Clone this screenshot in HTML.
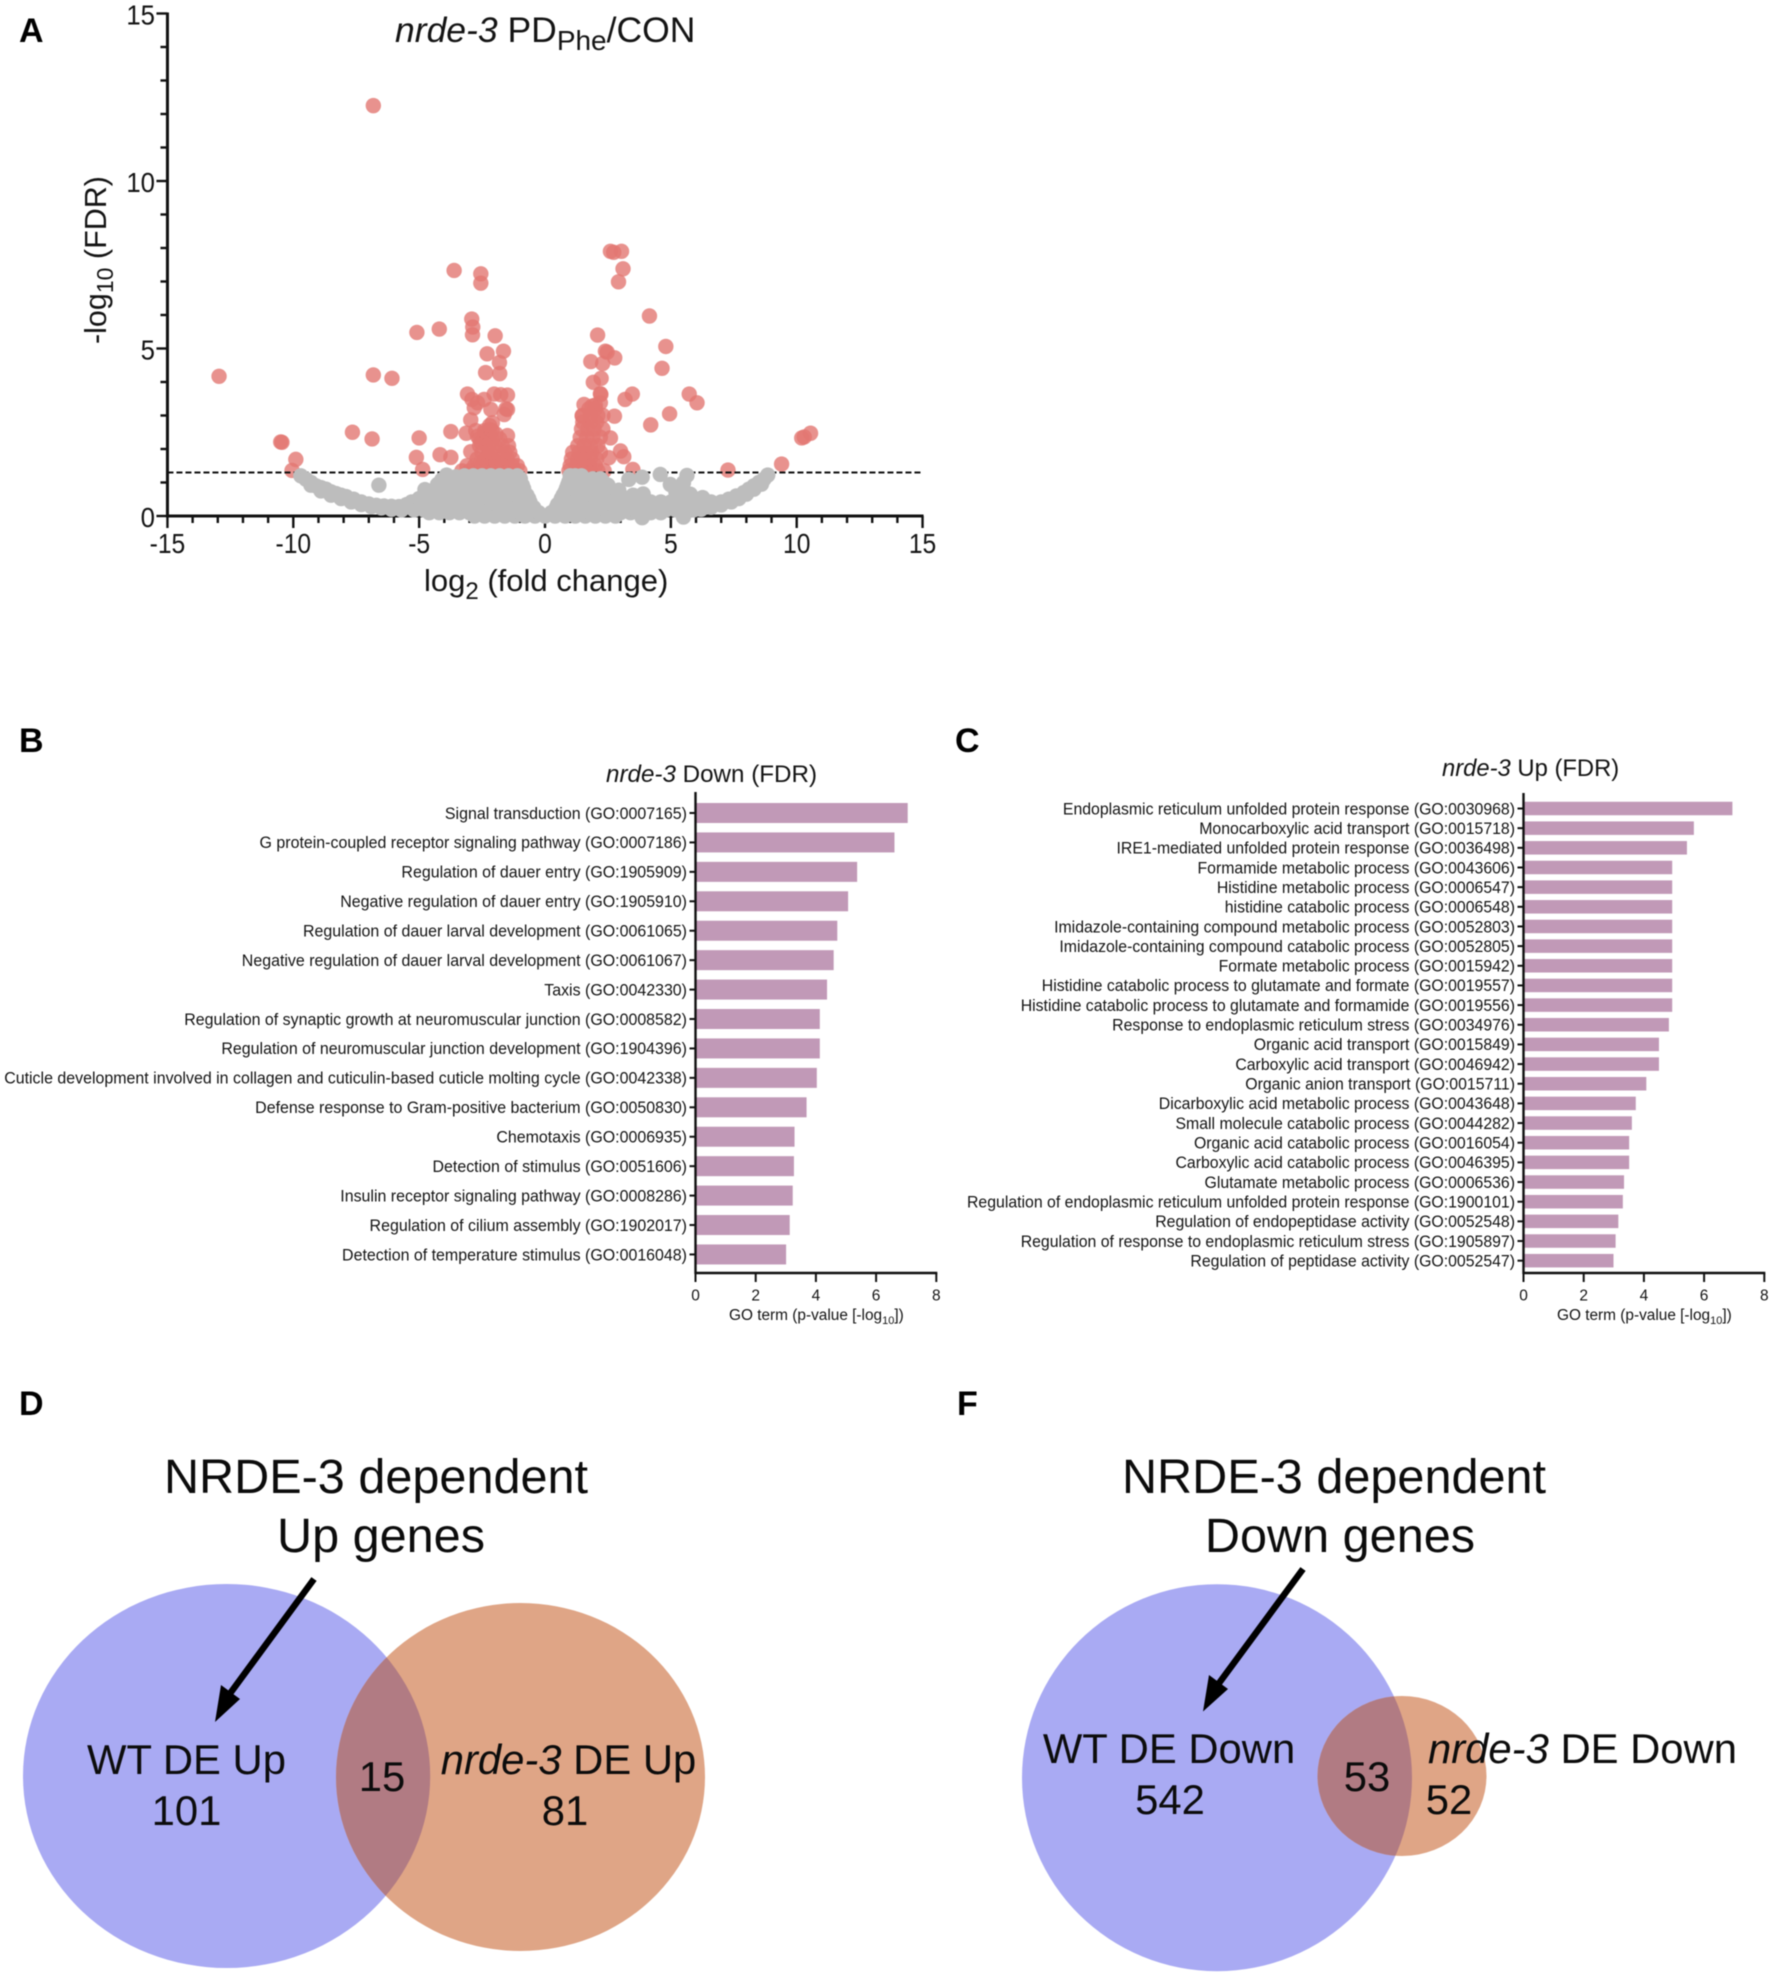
<!DOCTYPE html>
<html lang="en">
<head>
<meta charset="utf-8">
<title>nrde-3 figure</title>
<style>
html,body{margin:0;padding:0;background:#fff;}
svg{display:block;filter:blur(0.5px);}
text{font-family:"Liberation Sans",Arial,sans-serif;fill:#141414;}
.panel{font-weight:bold;font-size:34px;fill:#000;}
.venn{font-size:48.6px;fill:#0c0c0c;}
.venn2{font-size:41.8px;fill:#0c0c0c;}
</style>
</head>
<body>
<svg id="fig" xmlns="http://www.w3.org/2000/svg" width="1772" height="1976" viewBox="0 0 1772 1976">
  <rect x="0" y="0" width="1772" height="1976" fill="#fff"/>
  <text class="panel" x="19" y="42">A</text>
  <text class="panel" x="19" y="752">B</text>
  <text class="panel" x="955" y="752">C</text>
  <text class="panel" x="19" y="1415">D</text>
  <text class="panel" x="957" y="1415">F</text>

  <g id="volcano"></g>
  <text x="395" y="42" font-size="35.5"><tspan font-style="italic">nrde-3</tspan> PD<tspan font-size="28" dy="8">Phe</tspan><tspan dy="-8">/CON</tspan></text>
  <text transform="translate(106,344) rotate(-90)" font-size="30.5">-log<tspan font-size="23" dy="7">10</tspan><tspan dy="-7"> (FDR)</tspan></text>
  <text x="424" y="591" font-size="31">log<tspan font-size="24" dy="8">2</tspan><tspan dy="-8"> (fold change)</tspan></text>

  <g id="barsDown"></g>
  <text x="606" y="782" font-size="24.2"><tspan font-style="italic">nrde-3</tspan> Down (FDR)</text>
  <text x="729" y="1320" font-size="15.4">GO term (p-value [-log<tspan font-size="11" dy="4">10</tspan><tspan dy="-4">])</tspan></text>

  <g id="barsUp"></g>
  <text x="1442" y="776" font-size="23.8"><tspan font-style="italic">nrde-3</tspan> Up (FDR)</text>
  <text x="1557" y="1320" font-size="15.4">GO term (p-value [-log<tspan font-size="11" dy="4">10</tspan><tspan dy="-4">])</tspan></text>

  <defs>
    <clipPath id="clipD"><ellipse cx="226.6" cy="1776" rx="203.6" ry="192"/></clipPath>
    <clipPath id="clipF"><ellipse cx="1217" cy="1777.7" rx="195" ry="193.5"/></clipPath>
  </defs>

  <g>
    <ellipse cx="226.6" cy="1776" rx="203.6" ry="192" fill="#a9aaf3"/>
    <ellipse cx="520.5" cy="1777" rx="184.5" ry="174" fill="#dfa586"/>
    <ellipse cx="520.5" cy="1777" rx="184.5" ry="174" fill="#b17b83" clip-path="url(#clipD)"/>
    <text class="venn" x="376" y="1493" text-anchor="middle">NRDE-3 dependent</text>
    <text class="venn" x="381" y="1552" text-anchor="middle">Up genes</text>
    <line x1="314" y1="1579" x2="226" y2="1699" stroke="#000" stroke-width="6.5"/>
    <polygon points="215,1722 221,1685 240,1699" fill="#000"/>
    <text class="venn2" x="186.5" y="1774" text-anchor="middle">WT DE Up</text>
    <text class="venn2" x="186.5" y="1825" text-anchor="middle">101</text>
    <text class="venn2" x="382" y="1791" text-anchor="middle">15</text>
    <text class="venn2" x="568.5" y="1774" text-anchor="middle"><tspan font-style="italic">nrde-3</tspan> DE Up</text>
    <text class="venn2" x="565" y="1825" text-anchor="middle">81</text>
  </g>

  <g>
    <ellipse cx="1217" cy="1777.7" rx="195" ry="193.5" fill="#a9aaf3"/>
    <ellipse cx="1402" cy="1776" rx="84.5" ry="80" fill="#dfa586"/>
    <ellipse cx="1402" cy="1776" rx="84.5" ry="80" fill="#b17b83" clip-path="url(#clipF)"/>
    <text class="venn" x="1334" y="1493" text-anchor="middle">NRDE-3 dependent</text>
    <text class="venn" x="1340" y="1552" text-anchor="middle">Down genes</text>
    <line x1="1303" y1="1569" x2="1214" y2="1690" stroke="#000" stroke-width="6.5"/>
    <polygon points="1203,1711.5 1209,1675 1228,1689" fill="#000"/>
    <text class="venn2" x="1169" y="1763" text-anchor="middle">WT DE Down</text>
    <text class="venn2" x="1170" y="1814" text-anchor="middle">542</text>
    <text class="venn2" x="1367" y="1791" text-anchor="middle">53</text>
    <text class="venn2" x="1428" y="1763"><tspan font-style="italic">nrde-3</tspan> DE Down</text>
    <text class="venn2" x="1449" y="1814" text-anchor="middle">52</text>
  </g>
</svg>
<script>
/* ===== Volcano data (log2FC, -log10 FDR) ===== */
const volcanoXTicks = [-15,-10,-5,0,5,10,15];
const volcanoYTicks = [0,5,10,15];
const fdrThreshold = 1.3;
const sigOutliers = [[-6.82,12.25],[-12.95,4.17],[-10.5,2.21],[-10.45,2.2],[-10.05,1.36],[-9.9,1.69],[7.27,1.37],[9.4,1.55],[10.2,2.33],[10.3,2.36],[10.55,2.47]];
const sigLeft = [[-3.61,7.33],[-2.55,7.23],[-2.55,6.95],[-2.91,5.88],[-2.87,5.64],[-2.88,5.41],[-5.09,5.48],[-4.2,5.58],[-1.98,5.38],[-2.3,4.84],[-1.65,4.92],[-1.81,4.58],[-2.36,4.28],[-1.8,4.25],[-6.82,4.21],[-6.08,4.11],[-3.08,3.64],[-2.9,3.48],[-2.42,3.48],[-2.02,3.64],[-1.76,3.62],[-1.49,3.61],[-2.68,3.38],[-2.81,3.23],[-2.15,3.18],[-1.49,3.18],[-1.62,3.03],[-1.55,3.2],[-2.95,2.87],[-2.09,2.78],[-3.74,2.52],[-3.13,2.47],[-1.49,2.4],[-7.65,2.5],[-6.87,2.3],[-5.0,2.33],[-2.68,2.38],[-2.4,2.48],[-2.2,2.58],[-2.55,2.2],[-2.95,1.92],[-4.17,1.83],[-3.74,1.75],[-5.11,1.75],[-4.86,1.39]];
const sigLeftDense = [[-3.3,1.35],[-3.0,1.35],[-2.7,1.35],[-2.4,1.35],[-2.1,1.35],[-1.8,1.35],[-1.5,1.35],[-1.2,1.35],[-1.0,1.35],[-3.1,1.5],[-2.8,1.5],[-2.5,1.5],[-2.2,1.5],[-1.9,1.5],[-1.6,1.5],[-1.3,1.5],[-1.1,1.5],[-2.7,1.7],[-2.4,1.7],[-2.1,1.7],[-1.8,1.7],[-1.5,1.7],[-1.3,1.7],[-2.5,1.9],[-2.2,1.9],[-1.9,1.9],[-1.6,1.9],[-1.4,1.9],[-2.6,2.1],[-2.3,2.1],[-2.0,2.1],[-1.7,2.1],[-1.45,2.1],[-2.6,2.3],[-2.3,2.3],[-2.1,2.3],[-1.8,2.3],[-2.4,2.55],[-2.1,2.55],[-2.2,2.7],[-1.95,2.45],[-2.75,2.55],[-2.25,1.8],[-1.95,1.6],[-2.55,1.6]];
const sigRight = [[2.6,7.9],[2.73,7.87],[3.04,7.9],[3.1,7.38],[2.92,6.99],[4.15,5.97],[4.8,5.06],[4.65,4.41],[2.09,5.4],[2.4,4.92],[2.47,4.89],[2.77,4.72],[1.82,4.61],[2.29,4.55],[2.23,4.11],[1.92,3.99],[2.2,3.65],[2.22,3.63],[2.2,3.38],[2.0,3.31],[1.87,3.28],[3.47,3.64],[3.18,3.48],[1.55,3.33],[1.48,2.98],[2.76,2.98],[5.73,3.64],[6.04,3.38],[4.95,3.05],[4.2,2.72],[2.6,2.33],[3.0,1.94],[3.13,1.77],[2.54,1.74],[3.49,1.39]];
const sigRightDense = [[0.95,1.35],[1.2,1.35],[1.5,1.35],[1.8,1.35],[2.1,1.35],[2.35,1.35],[1.0,1.5],[1.25,1.5],[1.5,1.5],[1.75,1.5],[2.0,1.5],[1.05,1.7],[1.3,1.7],[1.55,1.7],[1.8,1.7],[2.05,1.7],[1.1,1.9],[1.35,1.9],[1.6,1.9],[1.85,1.9],[2.2,1.9],[1.3,2.1],[1.55,2.1],[1.8,2.1],[2.1,2.1],[1.4,2.35],[1.65,2.35],[1.9,2.35],[2.2,2.35],[1.45,2.6],[1.7,2.6],[1.95,2.6],[2.3,2.6],[1.5,2.8],[1.8,2.8],[2.05,2.8],[1.48,3.0],[1.8,3.0],[2.1,3.0],[2.3,3.0],[1.75,3.2],[2.0,3.2]];
const nsLeftArm = [[-9.7,1.2],[-9.5,1.1],[-9.3,1.0],[-9.1,0.9],[-8.9,0.85],[-8.7,0.8],[-8.5,0.72],[-8.3,0.67],[-8.1,0.62],[-7.9,0.58],[-7.6,0.5],[-7.3,0.42],[-7.0,0.36],[-6.7,0.32],[-6.4,0.3],[-6.1,0.29],[-5.8,0.28],[-9.3,0.92],[-8.9,0.75],[-8.5,0.62],[-8.1,0.52],[-7.7,0.42],[-7.3,0.34],[-6.9,0.28],[-6.5,0.24],[-6.1,0.2],[-5.7,0.18]];
const nsRightArm = [[8.85,1.22],[8.7,1.1],[8.5,1.0],[8.3,0.9],[8.1,0.8],[7.9,0.7],[7.6,0.6],[7.3,0.5],[7.0,0.42],[6.7,0.35],[6.4,0.3],[6.1,0.28],[5.8,0.28],[8.6,0.95],[8.3,0.8],[8.0,0.65],[7.7,0.52],[7.4,0.42],[7.0,0.33],[6.6,0.26],[6.2,0.2],[5.9,0.18]];
const nsOutliers = [[-6.6,0.92],[3.33,1.09],[3.86,1.16],[4.58,1.24],[5.64,1.21],[5.5,0.99],[4.98,0.94],[3.5,0.62],[3.9,0.66],[2.93,0.77],[5.77,0.65],[6.26,0.55],[5.5,-0.03],[3.86,-0.05],[-3.91,1.22],[-4.27,0.94],[-4.77,0.79],[-3.54,1.17],[-4.1,1.08],[5.2,0.72]];
const nsLevelY = [0.0,0.1,0.18,0.25,0.34,0.42,0.52,0.62,0.72,0.82,0.92,1.02,1.11,1.2];
const nsLevelX0 = [-2.8,-2.4,-2.0,-1.6,-1.2,-0.8,-0.4,0,0.4,0.8,1.2,1.6,2.0,2.4,2.8];
const nsLevelX1 = [-4.6,-4.2,-3.8,-3.4,-3.0,-2.6,-2.2,-1.8,-1.4,-1.0,-0.6,-0.25,0.25,0.6,1.0,1.4,1.8,2.2,2.6,3.0,3.4,3.8,4.2,4.6];
const nsLevelX1b = [-5.2,-4.8,-4.4,-4.0,-3.6,-3.2,-2.8,-2.4,-2.0,-1.6,-1.2,-0.8,-0.4,0.4,0.8,1.2,1.6,2.0,2.4,2.8,3.2,3.6,4.0,4.4,4.8,5.2];
const nsLevelX2 = [-5.7,-5.3,-4.9,-4.5,-4.1,-3.7,-3.3,-2.9,-2.5,-2.1,-1.7,-1.3,-0.9,-0.45,0.45,0.9,1.3,1.7,2.1,2.5,2.9,3.3,3.7,4.1,4.5,4.9,5.3,5.7];
const nsLevelX2b = [-5.5,-5.1,-4.7,-4.3,-3.9,-3.5,-3.1,-2.7,-2.3,-1.9,-1.5,-1.1,-0.7,0.5,0.7,1.1,1.5,1.9,2.3,2.7,3.1,3.5,3.9,4.3,4.7,5.1,5.5,5.9,6.3];
const nsLevelX3 = [-5.3,-4.9,-4.5,-4.1,-3.7,-3.3,-2.9,-2.5,-2.1,-1.7,-1.3,-0.6,0.6,1.0,1.4,1.8,2.2,2.6,3.0,3.4,3.8,4.2,4.6,5.0,5.4,5.8,6.2,6.6];
const nsLevelX3b = [-5.0,-4.6,-4.2,-3.8,-3.4,-3.0,-2.6,-2.2,-1.8,-1.4,-1.0,-0.65,0.65,0.85,1.2,1.6,2.0,2.4,2.8,3.2];
const nsLevelX4 = [-4.7,-4.3,-3.9,-3.5,-3.1,-2.7,-2.3,-1.9,-1.5,-1.1,-0.72,0.72,1.1,1.5,1.9,2.3,2.7,3.0];
const nsLevelX4b = [-4.4,-4.0,-3.6,-3.2,-2.8,-2.4,-2.0,-1.6,-1.2,-0.85,0.8,1.3,1.7,2.1,2.5,2.9];
const nsLevelX5 = [-4.2,-3.8,-3.4,-3.0,-2.6,-2.2,-1.8,-1.4,-1.0,-0.85,0.85,1.2,1.6,2.0,2.4];
const nsLevelX5b = [-4.0,-3.2,-2.8,-2.4,-2.0,-1.6,-1.2,-0.9,0.9,1.4,1.8,2.2,2.5];
const nsLevelX6 = [-3.4,-3.0,-2.6,-2.2,-1.8,-1.4,-1.0,0.95,1.3,1.7,2.1,2.3];
const nsLevelX6b = [-3.25,-2.8,-2.4,-2.0,-1.6,-1.2,-0.98,1.0,1.15,1.5,1.9,2.2];
const nsLevelX7 = [-3.2,-2.85,-2.5,-2.15,-1.8,-1.45,-1.1,1.0,1.2,1.45];
const nsLevels = [nsLevelX0,nsLevelX1,nsLevelX1b,nsLevelX2,nsLevelX2b,nsLevelX3,nsLevelX3b,nsLevelX4,nsLevelX4b,nsLevelX5,nsLevelX5b,nsLevelX6,nsLevelX6b,nsLevelX7];

/* ===== GO bar data ===== */
const downTerms = ["Signal transduction (GO:0007165)","G protein-coupled receptor signaling pathway (GO:0007186)","Regulation of dauer entry (GO:1905909)","Negative regulation of dauer entry (GO:1905910)","Regulation of dauer larval development (GO:0061065)","Negative regulation of dauer larval development (GO:0061067)","Taxis (GO:0042330)","Regulation of synaptic growth at neuromuscular junction (GO:0008582)","Regulation of neuromuscular junction development (GO:1904396)","Cuticle development involved in collagen and cuticulin-based cuticle molting cycle (GO:0042338)","Defense response to Gram-positive bacterium (GO:0050830)","Chemotaxis (GO:0006935)","Detection of stimulus (GO:0051606)","Insulin receptor signaling pathway (GO:0008286)","Regulation of cilium assembly (GO:1902017)","Detection of temperature stimulus (GO:0016048)"];
const downValues = [7.05,6.61,5.37,5.07,4.71,4.59,4.37,4.13,4.13,4.03,3.69,3.29,3.27,3.23,3.13,3.01];
const upTerms = ["Endoplasmic reticulum unfolded protein response (GO:0030968)","Monocarboxylic acid transport (GO:0015718)","IRE1-mediated unfolded protein response (GO:0036498)","Formamide metabolic process (GO:0043606)","Histidine metabolic process (GO:0006547)","histidine catabolic process (GO:0006548)","Imidazole-containing compound metabolic process (GO:0052803)","Imidazole-containing compound catabolic process (GO:0052805)","Formate metabolic process (GO:0015942)","Histidine catabolic process to glutamate and formate (GO:0019557)","Histidine catabolic process to glutamate and formamide (GO:0019556)","Response to endoplasmic reticulum stress (GO:0034976)","Organic acid transport (GO:0015849)","Carboxylic acid transport (GO:0046942)","Organic anion transport (GO:0015711)","Dicarboxylic acid metabolic process (GO:0043648)","Small molecule catabolic process (GO:0044282)","Organic acid catabolic process (GO:0016054)","Carboxylic acid catabolic process (GO:0046395)","Glutamate metabolic process (GO:0006536)","Regulation of endoplasmic reticulum unfolded protein response (GO:1900101)","Regulation of endopeptidase activity (GO:0052548)","Regulation of response to endoplasmic reticulum stress (GO:1905897)","Regulation of peptidase activity (GO:0052547)"];
const upValues = [6.94,5.66,5.43,4.94,4.94,4.94,4.94,4.94,4.94,4.94,4.94,4.83,4.5,4.5,4.08,3.73,3.6,3.51,3.51,3.34,3.3,3.15,3.06,2.99];
const barTicks = [0,2,4,6,8];

const NS = 'http://www.w3.org/2000/svg';
function mk(tag, attrs, parent){
  const e = document.createElementNS(NS, tag);
  for (const k in attrs) e.setAttribute(k, attrs[k]);
  parent.appendChild(e);
  return e;
}
function label(parent, str, x, y, size, anchor, sx){
  const t = mk('text', {'text-anchor':anchor, 'font-size':size, transform:'translate('+x+','+y+') scale('+sx+',1)'}, parent);
  t.textContent = str;
  return t;
}

/* ===== Volcano ===== */
(function(){
  const g = document.getElementById('volcano');
  const xS = v => 545 + v * 25.17;
  const yS = v => 516 - v * 33.5;
  const R = 7.7;
  const AX = '#111';

  function axisLine(x1,y1,x2,y2,w,name){
    const l = mk('line',{x1:x1,y1:y1,x2:x2,y2:y2,stroke:AX,'stroke-width':w},g);
    
    
  }
  const xMin = volcanoXTicks[0], xMax = volcanoXTicks[volcanoXTicks.length-1];
  const yMax = volcanoYTicks[volcanoYTicks.length-1];
  axisLine(xS(xMin), yS(0), xS(xMax)+1, yS(0), 3, 'x-axis-line');
  axisLine(xS(xMin), yS(yMax)-1, xS(xMin), yS(0)+1.5, 3, 'y-axis-line');
  for (let v = xMin; v <= xMax; v++){
    const major = volcanoXTicks.indexOf(v) >= 0;
    axisLine(xS(v), yS(0), xS(v), yS(0) + (major ? 12 : 7), 2.4, major ? 'x-major-tick' : 'x-minor-tick');
  }
  for (let v = 0; v <= yMax; v++){
    const major = volcanoYTicks.indexOf(v) >= 0;
    axisLine(xS(xMin), yS(v), xS(xMin) - (major ? 11 : 7), yS(v), 2.4, major ? 'y-major-tick' : 'y-minor-tick');
  }
  volcanoXTicks.forEach(v => {
    const t = label(g, String(v), xS(v), 553, 28, 'middle', 0.88);
    
    
  });
  volcanoYTicks.forEach(v => {
    const t = label(g, String(v), 155, yS(v) + 11, 28, 'end', 0.92);
    
    
  });

  function red(p){
    const c = mk('circle',{cx:xS(p[0]),cy:yS(p[1]),r:R,fill:'#e27772','fill-opacity':0.8},g);
    
    
  }
  function grey(x,y){
    const c = mk('circle',{cx:xS(x),cy:yS(y),r:R,fill:'#bdbdbd'},g);
    
    
  }
  sigOutliers.forEach(red);
  sigLeft.forEach(red);
  sigLeftDense.forEach(red);
  sigRight.forEach(red);
  sigRightDense.forEach(red);

  const dash = mk('line',{x1:xS(xMin),y1:yS(fdrThreshold),x2:xS(xMax),y2:yS(fdrThreshold),stroke:'#111','stroke-width':2,'stroke-dasharray':'6 3'},g);
  
  

  nsLeftArm.forEach(p => grey(p[0],p[1]));
  nsRightArm.forEach(p => grey(p[0],p[1]));
  nsOutliers.forEach(p => grey(p[0],p[1]));
  nsLevels.forEach((xs,i) => xs.forEach(x => grey(x, nsLevelY[i])));
})();

/* ===== Bars ===== */
function drawBars(id, terms, values, x0, unit, yFirst, step, barH, top, base, labelEnd, fontSize, sx, prefix){
  const g = document.getElementById(id);
  const xS = v => x0 + v * unit;
  const yS = i => yFirst + i * step;
  values.forEach((v,i) => {
    const b = mk('rect',{x:x0,y:yS(i)-barH/2,width:xS(v)-x0,height:barH,fill:'#c199b7'},g);
    
    
    const tk = mk('line',{x1:x0-6,y1:yS(i),x2:x0,y2:yS(i),stroke:'#111','stroke-width':2},g);
    
    
    const t = label(g, terms[i], labelEnd, yS(i)+5.8, fontSize, 'end', sx);
    
    
  });
  const ya = mk('line',{x1:x0,y1:top,x2:x0,y2:base+1,stroke:'#111','stroke-width':2.4},g);
  
  
  const xa = mk('line',{x1:x0-1,y1:base,x2:xS(barTicks[barTicks.length-1])+1,y2:base,stroke:'#111','stroke-width':2.4},g);
  
  
  barTicks.forEach(v => {
    const tk = mk('line',{x1:xS(v),y1:base,x2:xS(v),y2:base+9,stroke:'#111','stroke-width':2},g);
    
    
    const t = label(g, String(v), xS(v), 1300.5, 15.5, 'middle', 1);
    
    
  });
}
drawBars('barsDown', downTerms, downValues, 695.5, 30.1, 813, 29.43, 20, 792, 1273, 687, 16.5, 0.968, 'go-down');
drawBars('barsUp', upTerms, upValues, 1523.5, 30.1, 808.5, 19.66, 13.5, 793, 1273, 1515, 16.5, 0.96, 'go-up');
</script>
</body>
</html>
